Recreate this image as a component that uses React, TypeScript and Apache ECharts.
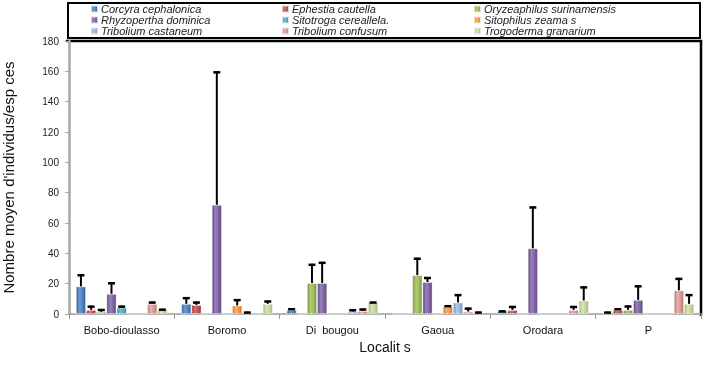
import React, { useEffect, useRef } from "react";
import * as echarts from "echarts";

const localities = ["Bobo-dioulasso", "Boromo", "Di  bougou", "Gaoua", "Orodara", "P"];
const speciesNames = [
  "Corcyra cephalonica",
  "Ephestia cautella",
  "Oryzeaphilus surinamensis",
  "Rhyzopertha dominica",
  "Sitotroga cereallela.",
  "Sitophilus zeama s",
  "Tribolium castaneum",
  "Tribolium confusum",
  "Trogoderma granarium",
];
const yAxisTitle = "Nombre moyen d'individus/esp ces";
const xAxisTitle = "Localit s";

// means per locality
const corcyraMean = [18.2, 6.7, 2.7, 0, 2, 0.5];
const ephestiaMean = [2.7, 6, 0, 0, 2.7, 2.7];
const oryzaephilusMean = [1.5, 0, 20.4, 25.6, 0, 2.7];
const rhyzoperthaMean = [13.3, 72, 20.4, 21.1, 43.3, 9.3];
const sitotrogaMean = [4.2, 0, 0, 0, 0, 0];
const sitophilusMean = [0, 5.6, 0, 4.9, 0, 0];
const castaneumMean = [0, 0.9, 1.6, 7.6, 0, 0];
const confusumMean = [6.7, 0, 2, 1.6, 2.7, 15.6];
const trogodermaMean = [2.7, 6.7, 7.8, 0.5, 8.9, 6.7];

// standard deviations (upper error bars)
const corcyraSd = [8, 4.4, 1.1, 0, 0.4, 1.1];
const ephestiaSd = [2.8, 2.2, 0, 0, 2.6, 1.1];
const oryzaephilusSd = [1.8, 0, 12.7, 11.5, 0, 2.9];
const rhyzoperthaSd = [7.6, 88, 14, 3.3, 27.6, 9.6];
const sitotrogaSd = [1.3, 0, 0, 0, 0, 0];
const sitophilusSd = [0, 4.2, 0, 0.9, 0, 0];
const castaneumSd = [0, 0.7, 1.5, 5.5, 0, 0];
const confusumSd = [1.5, 0, 1.6, 2.6, 2.6, 8.2];
const trogodermaSd = [0.8, 2.2, 0.4, 1.1, 9.3, 6.4];

const yTicks = { min: 0, max: 180, interval: 20 };

const means = [corcyraMean, ephestiaMean, oryzaephilusMean, rhyzoperthaMean, sitotrogaMean, sitophilusMean, castaneumMean, confusumMean, trogodermaMean];
const sds = [corcyraSd, ephestiaSd, oryzaephilusSd, rhyzoperthaSd, sitotrogaSd, sitophilusSd, castaneumSd, confusumSd, trogodermaSd];

const colors = ["#4F81BD", "#C0504D", "#9BBB59", "#8064A2", "#4BACC6", "#F79646", "#95B3D7", "#D99694", "#C3D69B"];
const darkColors = ["#2f5f98", "#9a3633", "#74923a", "#5d4582", "#2f8aa3", "#d0751f", "#6f90ba", "#bb7372", "#a0b878"];
const lightColors = ["#6d9ad0", "#d27472", "#b2cc7a", "#9b82ba", "#72c2d7", "#f9b071", "#b1c9e5", "#e6b3b1", "#d7e5bb"];

const GROUP_FRAC = 0.87;

export default function App() {
  const ref = useRef<HTMLDivElement>(null);
  useEffect(() => {
    if (!ref.current) return;
    const chart = echarts.init(ref.current, null, { renderer: "svg" });
    const nS = speciesNames.length;

    const barSeries = speciesNames.map((name, i) => ({
      type: "bar",
      name,
      data: means[i],
      barGap: "0%",
      barCategoryGap: "13%",
      itemStyle: {
        color: new echarts.graphic.LinearGradient(0, 0, 1, 0, [
          { offset: 0, color: darkColors[i] },
          { offset: 0.35, color: lightColors[i] },
          { offset: 0.7, color: colors[i] },
          { offset: 1, color: darkColors[i] },
        ]),
        borderColor: "rgba(255,255,255,0.75)",
        borderType: "dotted",
        borderWidth: 1,
      },
    }));

    const errSeries = speciesNames.map((name, i) => ({
      type: "custom",
      name: name + " SD",
      data: localities.map((_, k) => [k, means[i][k], sds[i][k]]),
      encode: { x: 0, y: 1 },
      z: 5,
      renderItem: (params: any, api: any) => {
        const ci = api.value(0);
        const v = api.value(1);
        const e = api.value(2);
        if (!e) return null;
        const base = api.coord([ci, v]);
        const top = api.coord([ci, v + e]);
        const w = api.size([1, 0])[0];
        const bw = (w * GROUP_FRAC) / nS;
        const x = base[0] - (w * GROUP_FRAC) / 2 + (i + 0.5) * bw;
        return {
          type: "group",
          children: [
            { type: "line", shape: { x1: x, y1: base[1], x2: x, y2: top[1] }, style: { stroke: "#000", lineWidth: 2 } },
            { type: "line", shape: { x1: x - 3.5, y1: top[1] + 1, x2: x + 3.5, y2: top[1] + 1 }, style: { stroke: "#000", lineWidth: 2.5 } },
          ],
        };
      },
    }));

    const legendLeft = [90, 281, 473];
    const legends = [0, 1, 2].map((c) => ({
      orient: "vertical",
      left: legendLeft[c],
      top: 3.5,
      padding: 0,
      itemGap: 0,
      itemWidth: 7,
      itemHeight: 7,
      icon: "rect",
      selectedMode: false,
      data: [speciesNames[c], speciesNames[c + 3], speciesNames[c + 6]],
      textStyle: { fontSize: 11, fontStyle: "italic", color: "#222", lineHeight: 11, padding: [0, 0, 0, -2] },
    }));

    chart.setOption({
      animation: false,
      textStyle: { fontFamily: "'Liberation Sans', Arial, sans-serif" },
      legend: legends,
      grid: { left: 69, right: 21, top: 41, bottom: 57, containLabel: false, outerBoundsMode: "none" },
      xAxis: {
        type: "category",
        data: localities,
        name: xAxisTitle,
        nameLocation: "middle",
        nameGap: 22,
        nameTextStyle: { fontSize: 14, color: "#111" },
        axisLine: { lineStyle: { color: "#9a9a9a", width: 1.5 } },
        axisTick: { show: true, length: 5, lineStyle: { color: "#9a9a9a" } },
        axisLabel: { fontSize: 11, color: "#111", margin: 10 },
      },
      yAxis: {
        type: "value",
        min: yTicks.min,
        max: yTicks.max,
        interval: yTicks.interval,
        name: yAxisTitle,
        nameLocation: "middle",
        nameRotate: 90,
        nameGap: 53,
        nameTextStyle: { fontSize: 15, color: "#111" },
        axisLine: { show: true, lineStyle: { color: "#a8a8a8", width: 2.5 } },
        axisTick: { show: true, length: 4, lineStyle: { color: "#a8a8a8" } },
        axisLabel: { fontSize: 10, color: "#222", margin: 10 },
        splitLine: { show: false },
      },
      graphic: [
        { type: "rect", shape: { x: 68, y: 3, width: 632, height: 35 }, style: { fill: "none", stroke: "#000", lineWidth: 2 } },
        { type: "polyline", shape: { points: [[66, 41], [701, 41], [701, 316]] }, style: { fill: "none", stroke: "#000", lineWidth: 2.5 } },
      ],
      series: [...barSeries, ...errSeries],
    } as any);
    return () => chart.dispose();
  }, []);
  return <div ref={ref} style={{ position: "fixed", left: 0, top: 0, width: 722, height: 371 }} />;
}
